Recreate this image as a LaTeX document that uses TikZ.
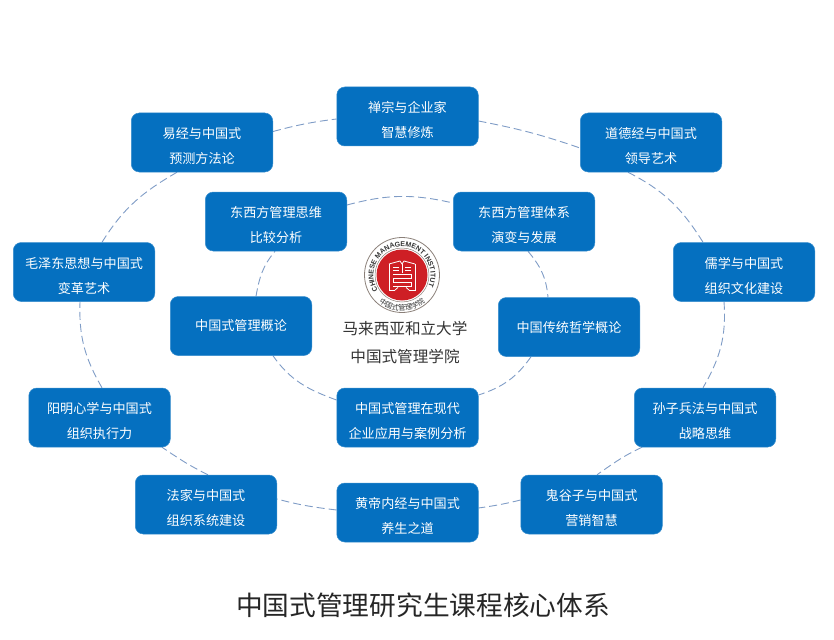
\documentclass[tikz,border=0pt]{standalone}
\usepackage{fontspec}
\setmainfont{Noto Sans CJK SC}
\newfontfamily\latinring{Liberation Sans}
\usetikzlibrary{backgrounds,decorations.text}
\definecolor{boxblue}{HTML}{0570C0}
\definecolor{linkblue}{HTML}{7F9CC6}
\definecolor{sealred}{HTML}{CE1F25}
\definecolor{ringgrey}{HTML}{8A7F78}
\definecolor{bodytext}{HTML}{333333}
\tikzset{
  course/.style={draw=boxblue!80!white,line width=0.5pt,fill=boxblue,rounded corners=8pt,minimum width=141.5pt,minimum height=59pt,inner sep=0pt,text=white,align=center,font=\fontsize{13.1}{25}\selectfont},
  link/.style={draw=linkblue,line width=0.9pt,dash pattern=on 8pt off 4pt},
  seal/.style={draw=white,line width=0.8pt},
}
\newcommand{\lowered}{\rule{0pt}{19pt}}
\begin{document}
\begin{tikzpicture}[x=1pt,y=1pt]
\useasboundingbox (0,-639) rectangle (834,0);
% outer ring
\node[course] (chan) at (407.5,-116.5) {\lowered 禅宗与企业家\\智慧修炼};
\node[course] (dao) at (651,-142.5) {\lowered 道德经与中国式\\领导艺术};
\node[course] (ru) at (744,-272) {\lowered 儒学与中国式\\组织文化建设};
\node[course] (sun) at (705,-417.5) {\lowered 孙子兵法与中国式\\战略思维};
\node[course] (gui) at (591.5,-504.5) {\lowered 鬼谷子与中国式\\营销智慧};
\node[course] (huang) at (407.5,-512.5) {\lowered 黄帝内经与中国式\\养生之道};
\node[course] (fa) at (206,-504.5) {\lowered 法家与中国式\\组织系统建设};
\node[course] (yang) at (99.5,-417.5) {\lowered 阳明心学与中国式\\组织执行力};
\node[course] (mao) at (84,-272) {\lowered 毛泽东思想与中国式\\变革艺术};
\node[course] (yi) at (202,-142.5) {\lowered 易经与中国式\\预测方法论};
% inner ring
\node[course] (siwei) at (276,-221.5) {\lowered 东西方管理思维\\比较分析};
\node[course] (tixi) at (524,-221.5) {\lowered 东西方管理体系\\演变与发展};
\node[course] (chuan) at (569,-327) {中国传统哲学概论};
\node[course] (xiandai) at (407.5,-417.5) {\lowered 中国式管理在现代\\企业应用与案例分析};
\node[course] (gailun) at (241,-326) {中国式管理概论};
\begin{scope}[on background layer]
\draw[link] ([yshift=11]yi.east) to[out=15,in=187] ([yshift=-2.5]chan.west);
\draw[link] ([yshift=-4.5]chan.east) to[out=-11,in=161] ([yshift=-5.5]dao.west);
\draw[link] ([xshift=-23]dao.south) to[out=-27,in=122] ([xshift=-41]ru.north);
\draw[link] ([xshift=-20]ru.south) to[out=-86,in=60] ([xshift=-2]sun.north);
\draw[link] ([xshift=-63]sun.south) to[out=205,in=35] ([xshift=5.5]gui.north);
\draw[link] ([yshift=4.5]gui.west) to[out=194,in=8] ([yshift=4.5]huang.east);
\draw[link] ([yshift=2.5]huang.west) to[out=173,in=-15] ([yshift=5.5]fa.east);
\draw[link] ([xshift=2]fa.north) to[out=154,in=-34] ([xshift=62.5]yang.south);
\draw[link] ([xshift=2.5]yang.north) to[out=120,in=-92] ([xshift=-4]mao.south);
\draw[link] ([xshift=18]mao.north) to[out=58,in=-150] ([xshift=-25]yi.south);
\draw[link] ([yshift=16.5]siwei.east) to[out=15,in=167] ([yshift=18.5]tixi.west);
\draw[link] ([xshift=4]tixi.south) to[out=-50,in=95] ([xshift=-21]chuan.north);
\draw[link] ([xshift=-38]chuan.south) to[out=235,in=18] ([yshift=22.5]xiandai.east);
\draw[link] ([yshift=17.5]xiandai.west) to[out=160,in=-55] ([xshift=32]gailun.south);
\draw[link] ([xshift=15]gailun.north) to[out=80,in=-130] ([xshift=-1]siwei.south);
\end{scope}
% seal
\coordinate (sealc) at (402,-275);
\draw[ringgrey,line width=0.8pt] (sealc) circle (37.5pt);
\fill[sealred] (sealc) circle (25.5pt);
\draw[ringgrey,line width=0.5pt] (sealc) circle (27pt);
\path[decorate,decoration={text along path,text align=center,text={|\latinring\bfseries\fontsize{7}{8}\selectfont\color{bodytext}|CHINESE MANAGEMENT INSTITUTE}}]
  ([shift={(200:28.5pt)}]sealc) arc[start angle=200,end angle=-20,radius=28.5pt];
\path[decorate,decoration={text along path,text align=center,text={|\fontsize{7.2}{8}\selectfont\color{bodytext}|中国式管理学院}}]
  ([shift={(225:35.5pt)}]sealc) arc[start angle=225,end angle=315,radius=35.5pt];
\begin{scope}[shift={(sealc)}]
\draw[seal] (-13,11) -- (-13,-15) -- (-7,-15) (13,11) -- (13,-15) -- (7,-15);
\draw[seal] (-13,11) -- (-2,14) -- (0,11) -- (2,14) -- (13,11);
\draw[seal] (0,11) -- (0,2);
\draw[seal] (-9,8) -- (-3,8) (3,8) -- (9,8) (-9,4.5) -- (-3,4.5) (3,4.5) -- (9,4.5);
\draw[seal] (-9,1) -- (9,1) -- (9,-3) -- (-9,-3) -- (-9,-7) -- (9,-7) -- (9,-11) -- (-9,-11);
\draw[seal] (-7,-15) -- (-4,-12.5) (7,-15) -- (4,-12.5);
\end{scope}
\node[text=bodytext,font=\fontsize{15.6}{28}\selectfont,align=center,inner sep=0pt] (school) at (405,-343) {马来西亚和立大学\\中国式管理学院};
\node[text=black!85,font=\fontsize{26.7}{30}\selectfont,inner sep=0pt] (title) at (423,-605) {中国式管理研究生课程核心体系};
\end{tikzpicture}
\end{document}
